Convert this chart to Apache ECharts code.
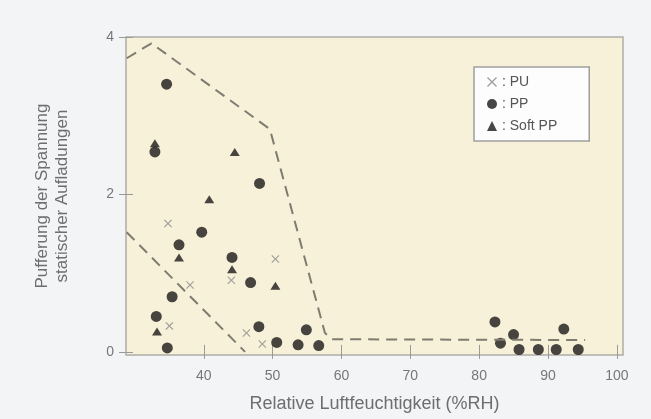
<!DOCTYPE html>
<html>
<head>
<meta charset="utf-8">
<script src="https://cdn.jsdelivr.net/npm/echarts@6/dist/echarts.min.js"></script>
<style>
  html, body { margin: 0; padding: 0; background: #f3f4f6; }
  #chart { width: 651px; height: 419px; }
</style>
</head>
<body>
<div id="chart"></div>
<script>
// Werte: [rel. Feuchte %RH, Pufferung]
var puData = [
  [34.8, 1.63], [38.0, 0.85], [44.0, 0.91], [50.4, 1.18],
  [35.0, 0.33], [46.2, 0.24], [48.5, 0.10]
];
var ppData = [
  [34.6, 3.40], [32.9, 2.54], [48.1, 2.14], [39.7, 1.52], [36.4, 1.36],
  [44.1, 1.20], [46.8, 0.88], [35.4, 0.70], [33.1, 0.45], [34.7, 0.05],
  [48.0, 0.32], [50.6, 0.12], [53.7, 0.09], [54.9, 0.28], [56.7, 0.08],
  [82.3, 0.38], [83.1, 0.11], [85.0, 0.22], [85.8, 0.03], [88.6, 0.03],
  [91.2, 0.03], [92.3, 0.29], [94.4, 0.03]
];
var softPpData = [
  [32.9, 2.65], [44.5, 2.54], [40.8, 1.94], [36.4, 1.20],
  [44.1, 1.05], [50.4, 0.84], [33.2, 0.26]
];
// gestrichelte Grenzlinien
var upperBound = [
  [28.8, 3.73], [32.4, 3.92], [49.6, 2.83], [57.6, 0.24], [58.6, 0.16], [95.4, 0.15]
];
var lowerBound = [
  [28.8, 1.52], [46.0, 0.0]
];
var xTicks = [40, 50, 60, 70, 80, 90, 100];
var yTicks = [0, 2, 4];

var crossPath = 'path://M1,0L5,4L9,0L10,1L6,5L10,9L9,10L5,6L1,10L0,9L4,5L0,1Z';
var textGray = '#777';
var dashColor = '#7f7b70';

var myChart = echarts.init(document.getElementById('chart'));
var option = {
  backgroundColor: '#f3f4f6',
  animation: false,
  grid: {
    left: 126, right: 28, top: 37, bottom: 64,
    show: true,
    backgroundColor: '#f8f1d9',
    borderColor: '#aeaca6',
    borderWidth: 1.5
  },
  legend: {
    left: 474, top: 67,
    orient: 'vertical',
    backgroundColor: '#fdfdfd',
    borderColor: '#9e9e9e',
    borderWidth: 1.5,
    padding: [8, 32, 8, 13],
    itemGap: 8,
    itemWidth: 10,
    itemHeight: 10,
    data: ['PU', 'PP', 'Soft PP'],
    formatter: function (name) {
      return ': ' + name;
    },
    textStyle: { color: '#555', fontSize: 14, fontFamily: 'Liberation Sans' }
  },
  xAxis: [
    {
      type: 'value',
      min: 28.7, max: 100.9,
      name: 'Relative Luftfeuchtigkeit (%RH)',
      nameLocation: 'middle',
      nameGap: 40,
      nameTextStyle: { color: '#6e6e6e', fontSize: 18, fontFamily: 'Liberation Sans' },
      axisLine: { show: false },
      splitLine: { show: false },
      axisTick: { show: true, length: 7, customValues: xTicks, lineStyle: { color: '#999' } },
      axisLabel: { customValues: xTicks, color: textGray, fontSize: 14, margin: 14, fontFamily: 'Liberation Sans' }
    },
    {
      type: 'value',
      min: 28.7, max: 100.9,
      position: 'bottom',
      axisLine: { show: false },
      splitLine: { show: false },
      axisLabel: { show: false },
      axisTick: { show: true, inside: true, length: 7, customValues: xTicks, lineStyle: { color: '#999' } }
    }
  ],
  yAxis: [
    {
      type: 'value',
      min: -0.04, max: 4.0,
      name: 'Pufferung der Spannung\nstatischer Aufladungen',
      nameLocation: 'middle',
      nameRotate: 90,
      nameGap: 54,
      nameTextStyle: { color: '#6e6e6e', fontSize: 17, lineHeight: 20, fontFamily: 'Liberation Sans' },
      axisLine: { show: false },
      splitLine: { show: false },
      axisTick: { show: true, length: 7, customValues: yTicks, lineStyle: { color: '#999' } },
      axisLabel: { customValues: yTicks, color: textGray, fontSize: 14, margin: 12, fontFamily: 'Liberation Sans' }
    },
    {
      type: 'value',
      min: -0.04, max: 4.0,
      position: 'left',
      axisLine: { show: false },
      splitLine: { show: false },
      axisLabel: { show: false },
      axisTick: { show: true, inside: true, length: 7, customValues: yTicks, lineStyle: { color: '#999' } }
    }
  ],
  series: [
    {
      name: 'upper',
      type: 'line',
      data: upperBound,
      symbol: 'none',
      lineStyle: { color: dashColor, width: 2, type: [11, 7] },
      silent: true
    },
    {
      name: 'lower',
      type: 'line',
      data: lowerBound,
      symbol: 'none',
      lineStyle: { color: dashColor, width: 2, type: [11, 7] },
      silent: true
    },
    {
      name: 'PU',
      type: 'scatter',
      data: puData,
      symbol: crossPath,
      symbolSize: 8,
      itemStyle: { color: '#8a8a8a' }
    },
    {
      name: 'PP',
      type: 'scatter',
      data: ppData,
      symbol: 'circle',
      symbolSize: 11,
      itemStyle: { color: '#1a1816' }
    },
    {
      name: 'Soft PP',
      type: 'scatter',
      data: softPpData,
      symbol: 'triangle',
      symbolSize: [10, 8],
      itemStyle: { color: '#1a1816' }
    }
  ]
};
option && myChart.setOption(option);
</script>
</body>
</html>
